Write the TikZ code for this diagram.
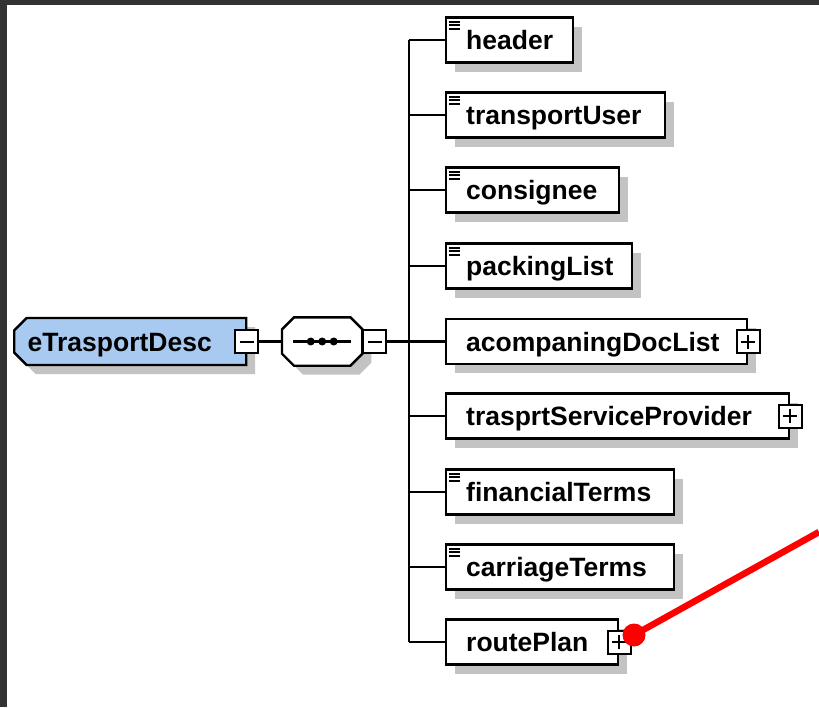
\documentclass[tikz,border=0pt]{standalone}
\usepackage{fontspec}
\newfontfamily\xsdfont{Liberation Sans}
\usetikzlibrary{shapes.misc,shadows}
\definecolor{xsdblue}{RGB}{168,202,240}
\definecolor{shadegray}{RGB}{195,195,195}
\definecolor{framegray}{RGB}{50,50,50}
% 注释图标（三条短线）
\newcommand{\annoicon}[1]{%
  \foreach \d in {5.5,9,12.5}{\draw[line width=1.8pt] ([xshift=4pt,yshift=-\d pt]#1.north west) -- ++(11,0);}}

\begin{document}
\begin{tikzpicture}[x=1pt, y=-1pt,
    wire/.style={line width=2.3pt},
    xsdtext/.style={font=\xsdfont\bfseries\fontsize{26.5}{30}\selectfont, text height=19pt, text depth=0pt},
    boxshadow/.style={general shadow={fill=shadegray, shadow xshift=9pt, shadow yshift=-9pt}},
    elem/.style={xsdtext, draw, line width=2.4pt, fill=white, anchor=west, boxshadow,
      minimum height=45pt, inner xsep=20pt, inner ysep=0pt, align=left},
    togglebox/.style={draw, line width=2pt, fill=white, minimum size=23pt, inner sep=0pt},
    minusbox/.style={togglebox, path picture={
      \draw[line width=2pt] ([xshift=-7pt]path picture bounding box.center) -- ([xshift=7pt]path picture bounding box.center);}},
    plusbox/.style={togglebox, path picture={
      \draw[line width=2pt] ([xshift=-7pt]path picture bounding box.center) -- ([xshift=7pt]path picture bounding box.center);
      \draw[line width=2pt] ([yshift=-7pt]path picture bounding box.center) -- ([yshift=7pt]path picture bounding box.center);}}]
    \useasboundingbox (0,0) rectangle (819,707);

    % 窗口边框
    \fill[framegray] (0,0) rectangle (819,707);
    \fill[white] (7,5) rectangle (819,707);

    % 根元素
    \node[xsdtext, chamfered rectangle, chamfered rectangle corners={north west,south west},
      chamfered rectangle xsep=10pt, draw, line width=2.4pt, fill=xsdblue, anchor=west, boxshadow,
      minimum height=47pt, inner xsep=4pt, inner ysep=0pt, text width=205pt, align=left] (root) at (13,341.5) {eTrasportDesc};
    \node[minusbox] (rootMinus) at (246.5,341.5) {};

    % 序列（八边形）
    \node[minimum width=80pt, minimum height=48pt, inner sep=0pt, anchor=west] (seq) at (282,341.5) {};
    \draw[line width=2.4pt, fill=white, boxshadow]
      ([xshift=12pt]seq.north west) -- ([xshift=-12pt]seq.north east) -- ([yshift=-12pt]seq.north east)
      -- ([yshift=12pt]seq.south east) -- ([xshift=-12pt]seq.south east) -- ([xshift=12pt]seq.south west)
      -- ([yshift=12pt]seq.south west) -- ([yshift=-12pt]seq.north west) -- cycle;
    \draw[wire] ([xshift=-29pt]seq.center) -- ([xshift=29pt]seq.center);
    \foreach \dx in {-11.5,0,11.5}
      \fill ([xshift=\dx pt]seq.center) circle (4pt);
    \node[minusbox, anchor=west] (seqMinus) at (seq.east) {};

    \draw[wire] (rootMinus.east) -- (seq.west);
    \coordinate (bus) at (409,341.5);
    \draw[wire] (seqMinus.east) -- (bus);

    % 子元素
    \node[elem, text width=87pt] (header) at (445,40) {header};
    \node[elem, text width=179pt] (transportUser) at (445,115) {transportUser};
    \node[elem, text width=133pt] (consignee) at (445,190) {consignee};
    \node[elem, text width=146pt] (packingList) at (445,266) {packingList};
    \node[elem, text width=261pt] (acompaningDocList) at (445,341.5) {acompaningDocList};
    \node[elem, text width=303pt] (trasprtServiceProvider) at (445,416) {trasprtServiceProvider};
    \node[elem, text width=188pt] (financialTerms) at (445,492) {financialTerms};
    \node[elem, text width=188pt] (carriageTerms) at (445,567) {carriageTerms};
    \node[elem, text width=132pt] (routePlan) at (445,642) {routePlan};

    \foreach \n in {header,transportUser,consignee,packingList,financialTerms,carriageTerms}
      {\annoicon{\n}}

    \node[plusbox] (docPlus) at (acompaningDocList.east) {};
    \node[plusbox] (providerPlus) at (trasprtServiceProvider.east) {};
    \node[plusbox] (routePlus) at (routePlan.east) {};

    % 连线
    \draw[wire] (bus |- header.west) -- (bus |- routePlan.west);
    \foreach \n in {header,transportUser,consignee,packingList,acompaningDocList,
                    trasprtServiceProvider,financialTerms,carriageTerms,routePlan}
      \draw[wire] (bus |- \n.west) -- (\n.west);

    % 红色标记
    \coordinate (markEnd) at (819,532);
    \node[circle, fill=red, minimum size=23pt, inner sep=0pt] (mark) at (634,635) {};
    \draw[red, line width=6.5pt] (mark.center) -- (markEnd);
\end{tikzpicture}
\end{document}
